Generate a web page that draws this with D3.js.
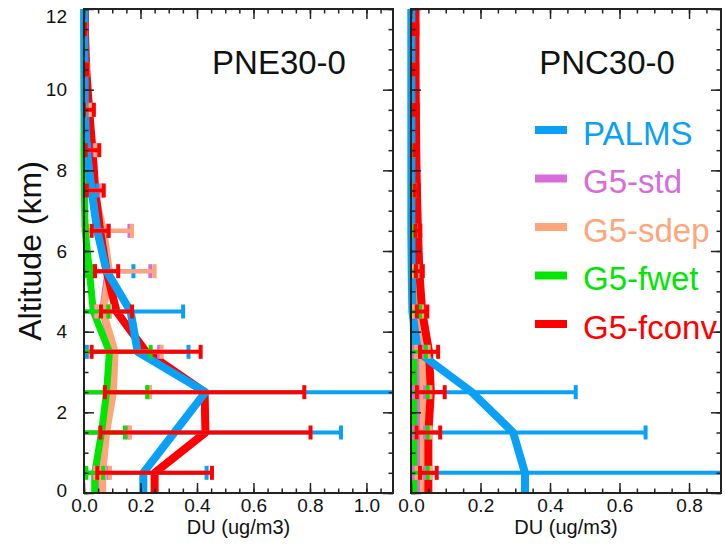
<!DOCTYPE html>
<html><head><meta charset="utf-8">
<script src="https://cdn.jsdelivr.net/npm/d3@7"></script>
<style>
body{margin:0;background:#fff;}
svg{display:block;font-family:"Liberation Sans",Arial,Helvetica,sans-serif;}
</style></head>
<body><svg id="c" width="725" height="554"></svg>
<script>
// ---------- data ----------
const altitudes = [0.5,1.5,2.5,3.5,4.5,5.5,6.5,7.5,8.5,9.5,10.5,11.5];
const seriesNames = ["PALMS","G5-std","G5-sdep","G5-fwet","G5-fconv"];
const seriesColors = ["#0aa0f5","#d86cd8","#ffa57a","#00e600","#ff0000"];

// Panel 1: PNE30-0  (mean, sd)
const pnePALMS    = [0.21,0.32,0.43,0.19,0.165,0.08,0.047,0.027,0.01,0.003,0.002,0.001];
const pnePALMSsd  = [0.224,0.59,0.75,0.18,0.186,0.095,0.04,0.02,0.008,0.004,0.003,0.002];
const pneStd      = [0.062,0.076,0.1,0.106,0.066,0.085,0.066,0.032,0.02,0.012,0.006,0.003];
const pneStdsd    = [0.024,0.08,0.125,0.16,0.024,0.15,0.095,0.028,0.018,0.01,0.005,0.002];
const pneSdep     = [0.066,0.08,0.104,0.11,0.068,0.09,0.07,0.035,0.022,0.014,0.007,0.003];
const pneSdepsd   = [0.026,0.083,0.13,0.165,0.024,0.16,0.1,0.03,0.02,0.01,0.005,0.002];
const pneFwet     = [0.038,0.062,0.08,0.09,0.033,0.019,0.004,0.001,0.0,0.0,0.0,0.0];
const pneFwetsd   = [0.03,0.083,0.144,0.146,0.053,0.015,0.006,0.004,0.003,0.002,0.002,0.001];
const pneFconv    = [0.25,0.43,0.427,0.22,0.115,0.08,0.057,0.04,0.03,0.018,0.008,0.003];
const pneFconvsd  = [0.203,0.372,0.353,0.193,0.055,0.041,0.03,0.03,0.024,0.017,0.003,0.002];

// Panel 2: PNC30-0
const pncPALMS    = [0.328,0.294,0.175,0.02,0.004,0.002,0.001,0.001,0.001,0.001,0.001,0.001];
const pncPALMSsd  = [0.567,0.381,0.299,0.01,0.005,0.004,0.004,0.004,0.004,0.004,0.004,0.004];
const pncStd      = [0.024,0.024,0.024,0.022,0.015,0.01,0.008,0.006,0.005,0.004,0.004,0.004];
const pncStdsd    = [0.016,0.016,0.016,0.015,0.01,0.006,0.005,0.004,0.003,0.003,0.003,0.003];
const pncSdep     = [0.036,0.036,0.036,0.033,0.02,0.012,0.009,0.007,0.006,0.005,0.004,0.004];
const pncSdepsd   = [0.02,0.02,0.02,0.018,0.012,0.007,0.005,0.004,0.003,0.003,0.003,0.003];
const pncFwet     = [0.008,0.008,0.008,0.008,0.006,0.004,0.003,0.002,0.002,0.001,0.001,0.001];
const pncFwetsd   = [0.04,0.04,0.04,0.035,0.02,0.01,0.006,0.005,0.004,0.003,0.003,0.003];
const pncFconv    = [0.05,0.05,0.057,0.052,0.032,0.024,0.02,0.017,0.015,0.014,0.013,0.013];
const pncFconvsd  = [0.024,0.034,0.04,0.026,0.015,0.01,0.007,0.006,0.005,0.005,0.005,0.005];

const yTicks = [0,2,4,6,8,10,12];
const pneXTicks = [0.0,0.2,0.4,0.6,0.8,1.0];
const pncXTicks = [0.0,0.2,0.4,0.6,0.8];
const panelTitles = ["PNE30-0","PNC30-0"];
const xTitle = "DU (ug/m3)";
const yTitle = "Altitude (km)";

// ---------- layout ----------
const panels = [
  {x0:84, x1:393, xmax:1.094, ticks:pneXTicks, title:panelTitles[0], titleX:279,
   means:[pnePALMS,pneStd,pneSdep,pneFwet,pneFconv], sds:[pnePALMSsd,pneStdsd,pneSdepsd,pneFwetsd,pneFconvsd]},
  {x0:411, x1:721, xmax:0.892, ticks:pncXTicks, title:panelTitles[1], titleX:607,
   means:[pncPALMS,pncStd,pncSdep,pncFwet,pncFconv], sds:[pncPALMSsd,pncStdsd,pncSdepsd,pncFwetsd,pncFconvsd]}
];
const yTop = 9, yBot = 493;
const y = d3.scaleLinear().domain([0,12]).range([yBot,yTop]);
const svg = d3.select("#c");
const lineW = [8,7,7,7,8];
const lineOrder = [1,2,3,4,0];   // PALMS profile drawn on top

panels.forEach((p,pi)=>{
  const x = d3.scaleLinear().domain([0,p.xmax]).range([p.x0,p.x1]);
  const g = svg.append("g");
  const cid = "clip"+pi, lid = "lclip"+pi;
  svg.append("clipPath").attr("id",cid).append("rect")
    .attr("x",p.x0).attr("y",yTop).attr("width",p.x1-p.x0).attr("height",yBot-yTop);
  svg.append("clipPath").attr("id",lid).append("rect")
    .attr("x",p.x0-5).attr("y",yTop).attr("width",p.x1-p.x0+5).attr("height",yBot-yTop);
  const lines = g.append("g").attr("clip-path",`url(#${lid})`);
  const plot = g.append("g").attr("clip-path",`url(#${cid})`);

  const line = d3.line().x(d=>x(d[0])).y(d=>y(d[1]));
  lineOrder.forEach(si=>{
    const m = p.means[si];
    const pts = [[m[0],0]].concat(altitudes.map((a,i)=>[m[i],a])).concat([[m[m.length-1],12]]);
    lines.append("path").datum(pts).attr("d",line).attr("fill","none")
      .attr("stroke",seriesColors[si]).attr("stroke-width",lineW[si]).attr("stroke-linejoin","round");
  });
  p.means.forEach((m,si)=>{
    const sd = p.sds[si];
    const eb = plot.append("g").attr("stroke",seriesColors[si]);
    altitudes.forEach((a,i)=>{
      const lo = m[i]-sd[i], hi = m[i]+sd[i];
      eb.append("line").attr("x1",x(lo)).attr("x2",x(hi)).attr("y1",y(a)).attr("y2",y(a)).attr("stroke-width",4);
      [lo,hi].forEach(v=>{
        eb.append("line").attr("x1",x(v)).attr("x2",x(v)).attr("y1",y(a)-7).attr("y2",y(a)+7).attr("stroke-width",4);
      });
    });
  });

  const minorX = d3.range(0,p.xmax+1e-9,0.05);
  const minorY = d3.range(0,12.001,0.5);
  const axCol = "#222";
  const mk = (axis,tr)=>{const a=g.append("g").attr("transform",tr).call(axis);
     a.select(".domain").remove(); a.selectAll("line").attr("stroke",axCol).attr("stroke-width",1.5); return a;};
  const bMaj = mk(d3.axisBottom(x).tickValues(p.ticks).tickSize(-10).tickPadding(6).tickFormat(d3.format(".1f")),`translate(0,${yBot})`);
  bMaj.selectAll("text").attr("font-size",19).attr("fill","#111");
  mk(d3.axisBottom(x).tickValues(minorX).tickSize(-4.5).tickFormat(""),`translate(0,${yBot})`);
  mk(d3.axisTop(x).tickValues(p.ticks).tickSize(-10).tickFormat(""),`translate(0,${yTop})`);
  mk(d3.axisTop(x).tickValues(minorX).tickSize(-4.5).tickFormat(""),`translate(0,${yTop})`);
  const lMaj = mk(d3.axisLeft(y).tickValues(yTicks).tickSize(-10).tickPadding(17).tickFormat(pi===0?d3.format("d"):""),`translate(${p.x0},0)`);
  lMaj.selectAll("text").attr("font-size",19).attr("fill","#111")
    .attr("dy",d=> d===12 ? "0.72em" : (d===0 ? "0.18em" : "0.32em"));
  mk(d3.axisLeft(y).tickValues(minorY).tickSize(-4.5).tickFormat(""),`translate(${p.x0},0)`);
  mk(d3.axisRight(y).tickValues(yTicks).tickSize(-10).tickFormat(""),`translate(${p.x1},0)`);
  mk(d3.axisRight(y).tickValues(minorY).tickSize(-4.5).tickFormat(""),`translate(${p.x1},0)`);
  g.append("rect").attr("x",p.x0).attr("y",yTop).attr("width",p.x1-p.x0).attr("height",yBot-yTop)
    .attr("fill","none").attr("stroke",axCol).attr("stroke-width",2);

  g.append("text").attr("x",p.titleX).attr("y",62).attr("text-anchor","middle").attr("dominant-baseline","central")
    .attr("font-size",33).attr("fill","#111").text(p.title);
  g.append("text").attr("x",(p.x0+p.x1)/2).attr("y",527).attr("text-anchor","middle").attr("dominant-baseline","central")
    .attr("font-size",20).attr("fill","#111").text(xTitle);
});

svg.append("text").attr("transform","translate(30,251) rotate(-90)").attr("text-anchor","middle")
  .attr("dominant-baseline","central").attr("font-size",32).attr("fill","#111").text(yTitle);

const leg = svg.append("g");
seriesNames.forEach((n,i)=>{
  const ly = 130 + i*48.5;
  leg.append("line").attr("x1",535).attr("x2",567).attr("y1",ly).attr("y2",ly)
    .attr("stroke",seriesColors[i]).attr("stroke-width",8);
  leg.append("text").attr("x",583).attr("y",ly+3).attr("dominant-baseline","central")
    .attr("font-size",33).attr("fill",seriesColors[i]).text(n);
});
</script></body></html>
